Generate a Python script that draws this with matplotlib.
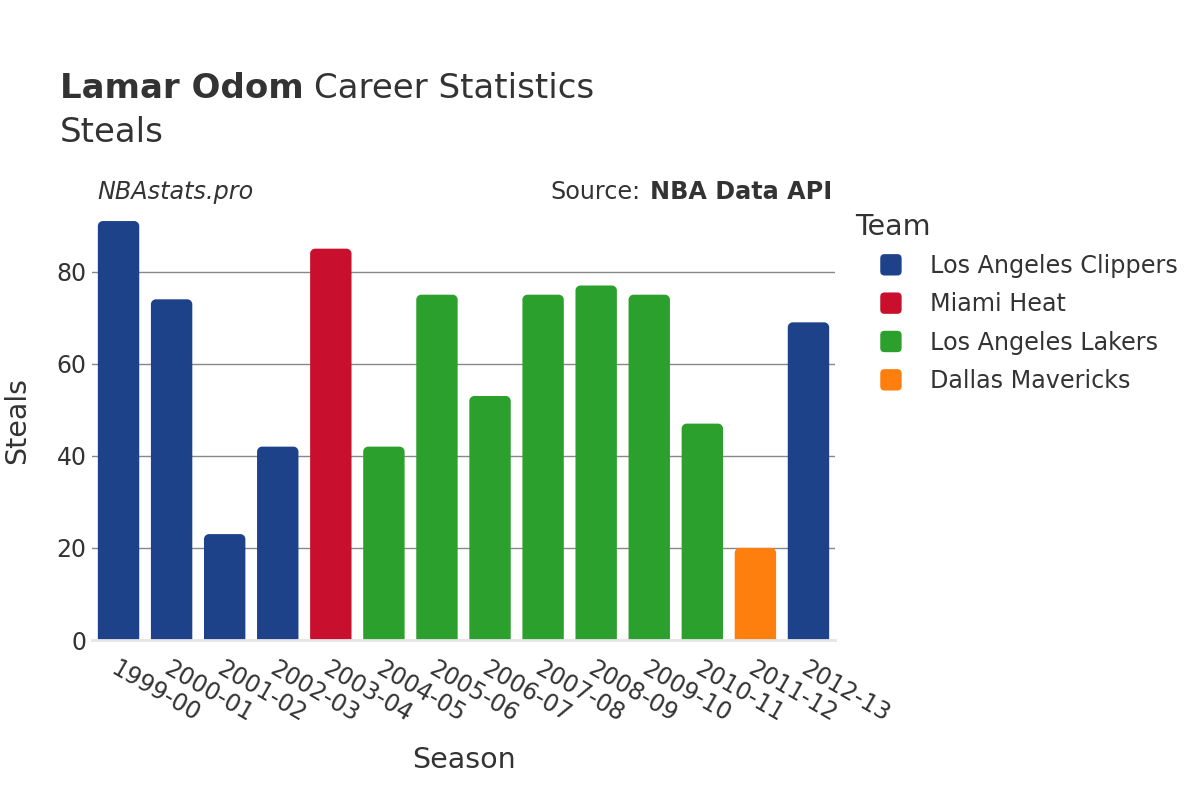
import matplotlib
matplotlib.use("Agg")

import matplotlib.pyplot as plt
from matplotlib.patches import FancyBboxPatch, PathPatch, Patch
from matplotlib.path import Path
from matplotlib.legend_handler import HandlerPatch

seasons = ['1999-00', '2000-01', '2001-02', '2002-03', '2003-04', '2004-05', '2005-06',
           '2006-07', '2007-08', '2008-09', '2009-10', '2010-11', '2011-12', '2012-13']
steals = [91, 74, 23, 42, 85, 42, 75, 53, 75, 77, 75, 47, 20, 69]
teams = ['Los Angeles Clippers', 'Los Angeles Clippers', 'Los Angeles Clippers', 'Los Angeles Clippers',
         'Miami Heat', 'Los Angeles Lakers', 'Los Angeles Lakers', 'Los Angeles Lakers',
         'Los Angeles Lakers', 'Los Angeles Lakers', 'Los Angeles Lakers', 'Los Angeles Lakers',
         'Dallas Mavericks', 'Los Angeles Clippers']
team_order = ['Los Angeles Clippers', 'Miami Heat', 'Los Angeles Lakers', 'Dallas Mavericks']
team_colors = {'Los Angeles Clippers': '#1d428a', 'Miami Heat': '#c8102e',
               'Los Angeles Lakers': '#2ca02c', 'Dallas Mavericks': '#ff7f0e'}

TEXT = '#333333'
W, H = 1200, 800
plt.rcParams['font.family'] = ['DejaVu Sans']

fig = plt.figure(figsize=(12, 8), dpi=100)
ax = fig.add_axes([92 / W, 160 / H, (835 - 92) / W, (640 - 199) / H])

ymax = max(steals) * 1.0526
ax.set_xlim(-0.5, len(seasons) - 0.5)
ax.set_ylim(0, ymax)

# size of one data unit in pixels, for round top corners of ~5 px
bbox = ax.get_position()
rx = 5 / (bbox.width * W / len(seasons))
ry = 5 / (bbox.height * H / ymax)
k = 0.45


def top_rounded_bar(x0, w, h):
    x1 = x0 + w
    verts = [(x0, 0), (x0, h - ry),
             (x0, h - ry * k), (x0 + rx * k, h), (x0 + rx, h),
             (x1 - rx, h),
             (x1 - rx * k, h), (x1, h - ry * k), (x1, h - ry),
             (x1, 0), (x0, 0)]
    codes = [Path.MOVETO, Path.LINETO,
             Path.CURVE4, Path.CURVE4, Path.CURVE4,
             Path.LINETO,
             Path.CURVE4, Path.CURVE4, Path.CURVE4,
             Path.LINETO, Path.CLOSEPOLY]
    return Path(verts, codes)


width = 0.78
for i, (val, team) in enumerate(zip(steals, teams)):
    ax.add_patch(PathPatch(top_rounded_bar(i - width / 2, width, val),
                           facecolor=team_colors[team], edgecolor='none', zorder=3))

ax.set_yticks([0, 20, 40, 60, 80])
ax.yaxis.grid(True, color='#888888', linewidth=1, zorder=0)
ax.set_axisbelow(True)
for s in ['top', 'right', 'left']:
    ax.spines[s].set_visible(False)
ax.spines['bottom'].set_color('#e6e6e6')
ax.spines['bottom'].set_linewidth(2)
ax.spines['bottom'].set_zorder(4)

ax.set_xticks(range(len(seasons)))
ax.set_xticklabels(seasons, rotation=-30, ha='left', va='top', rotation_mode='anchor')
ax.tick_params(axis='x', length=0, pad=12, labelsize=17, labelcolor=TEXT)
ax.tick_params(axis='y', length=0, pad=4, labelsize=17, labelcolor=TEXT)

fig.text(17 / W, 1 - 420 / H, 'Steals', rotation=90, ha='center', va='center', fontsize=20.5, color=TEXT)
fig.text(464 / W, 1 - 760 / H, 'Season', ha='center', va='center', fontsize=20.5, color=TEXT)

# title
t = fig.text(60 / W, 1 - 89 / H, 'Lamar Odom', fontsize=24.5, fontweight='bold', color=TEXT, va='center')
fig.canvas.draw()
tb = t.get_window_extent()
fig.text((tb.x1 + 10) / W, 1 - 89 / H, 'Career Statistics', fontsize=24.5, color=TEXT, va='center')
fig.text(60 / W, 1 - 132 / H, 'Steals', fontsize=24.5, color=TEXT, va='center')

fig.text(97 / W, 1 - 192 / H, 'NBAstats.pro', fontsize=17.2, style='italic', color=TEXT, va='center')
s2 = fig.text(832 / W, 1 - 192 / H, 'NBA Data API', fontsize=17.2, fontweight='bold', color=TEXT,
              va='center', ha='right')
fig.canvas.draw()
sb = s2.get_window_extent()
fig.text((sb.x0 - 9) / W, 1 - 192 / H, 'Source:', fontsize=17.2, color=TEXT, va='center', ha='right')


class RoundHandler(HandlerPatch):
    def create_artists(self, legend, orig_handle, xdescent, ydescent, width, height, fontsize, trans):
        size = min(width, height)
        p = FancyBboxPatch((-xdescent + (width - size) / 2, -ydescent + (height - size) / 2), size, size,
                           boxstyle=f"round,pad=0,rounding_size={size * 0.2}",
                           facecolor=orig_handle.get_facecolor(), edgecolor='none', transform=trans)
        return [p]


fig.text(855 / W, 1 - 227 / H, 'Team', fontsize=20.5, color=TEXT, va='center', ha='left')
handles = [Patch(facecolor=team_colors[t_], label=t_) for t_ in team_order]
leg = fig.legend(handles=handles, loc='upper left', bbox_to_anchor=(879 / W, 1 - 254 / H),
                 frameon=False, fontsize=17.2, handler_map={Patch: RoundHandler()},
                 handlelength=1.0, handleheight=1.0, handletextpad=1.15, labelspacing=0.6,
                 borderpad=0, borderaxespad=0)
for txt in leg.get_texts():
    txt.set_color(TEXT)

fig.savefig('out.png', dpi=100, facecolor='white')
